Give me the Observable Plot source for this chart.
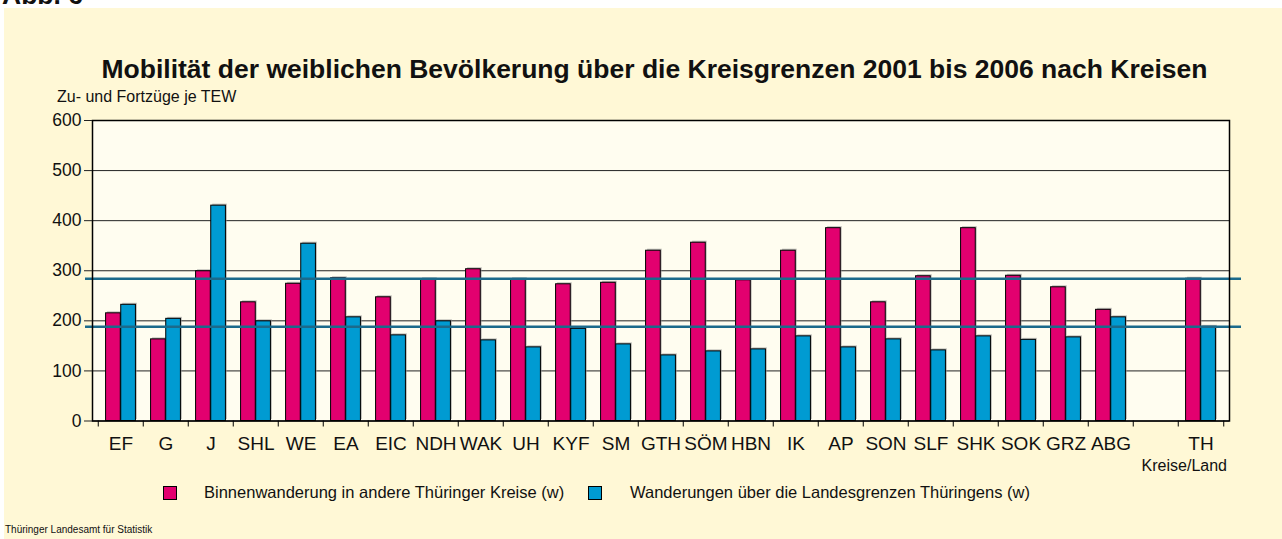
<!DOCTYPE html>
<html><head><meta charset="utf-8">
<script src="https://cdn.jsdelivr.net/npm/d3@7"></script>
<script src="https://cdn.jsdelivr.net/npm/@observablehq/plot@0.6"></script>
<style>
html,body{margin:0;padding:0;}
body{background:#fff;width:1282px;height:539px;overflow:hidden;position:relative;font-family:"Liberation Sans",Arial,sans-serif;color:#111;}
#panel{position:absolute;left:4px;top:8px;width:1278px;height:531px;background:#FFF8D6;}
.t{position:absolute;white-space:nowrap;line-height:1;color:#111;}
#chart{position:absolute;left:0;top:0;}
.sq{position:absolute;width:12px;height:12px;border:1px solid #000;}
</style>
</head><body>
<div class="t" style="left:2px;top:-18px;font-size:26.5px;font-weight:bold;">Abb. 6</div>
<div id="panel"></div>
<div id="chart"></div>
<div class="t" style="left:0;width:1309px;text-align:center;top:56px;font-size:26.5px;font-weight:bold;">Mobilität der weiblichen Bevölkerung über die Kreisgrenzen 2001 bis 2006 nach Kreisen</div>
<div class="t" style="left:57px;top:88.5px;font-size:16px;">Zu- und Fortzüge je TEW</div>
<div class="t" style="right:55px;top:458px;font-size:16px;">Kreise/Land</div>
<div class="sq" style="left:163px;top:486px;background:#E2006F;"></div>
<div class="t" style="left:204px;top:484px;font-size:16.5px;">Binnenwanderung in andere Thüringer Kreise (w)</div>
<div class="sq" style="left:588px;top:486px;background:#009BD2;"></div>
<div class="t" style="left:630px;top:484px;font-size:16.5px;">Wanderungen über die Landesgrenzen Thüringens (w)</div>
<div class="t" style="left:5px;top:525px;font-size:10px;">Thüringer Landesamt für Statistik</div>
<script>
// Kreise (with one empty slot before the Land total)
const kreise = ["EF","G","J","SHL","WE","EA","EIC","NDH","WAK","UH","KYF","SM","GTH","SÖM","HBN","IK","AP","SON","SLF","SHK","SOK","GRZ","ABG"," ","TH"];
// Binnenwanderung in andere Thüringer Kreise (w), Zu- und Fortzüge je TEW
const binnen = [215,163,299,237,274,285,247,283,303,283,273,276,340,356,281,340,385,237,289,385,290,267,222,null,284];
// Wanderungen über die Landesgrenzen Thüringens (w)
const landes = [232,204,430,199,354,207,171,199,161,147,184,153,131,139,143,169,147,163,141,169,162,167,207,null,188];
const yTicks = [0,100,200,300,400,500,600];
const landKey = "TH";

const W = 1282, H = 539, ML = 92, MR = 53, MT = 120, MB = 118.5;
const bw = (W - ML - MR) / kreise.length;
const rows = kreise.map((k, i) => ({k, b: binnen[i], l: landes[i]})).filter(d => d.b != null);
const th = rows.find(d => d.k === landKey);
const pink = "#E2006F", blue = "#009BD2";

const chart = Plot.plot({
  width: W, height: H,
  marginLeft: ML, marginRight: MR, marginTop: MT, marginBottom: MB,
  style: {background: "transparent", fontFamily: "'Liberation Sans', Arial, sans-serif", color: "#111", overflow: "visible"},
  x: {domain: kreise, padding: 0, axis: null},
  y: {domain: [0, 600], axis: null},
  marks: [
    Plot.frame({fill: "#FFFDF0", stroke: "none"}),
    Plot.gridY(yTicks, {stroke: "#222", strokeOpacity: 1, strokeWidth: 1}),
    Plot.barY(rows, {x: "k", y: "b", fill: "#8a8a8a", fillOpacity: 0.55, dx: 1.5, dy: -1.5, insetLeft: bw/6, insetRight: bw/2}),
    Plot.barY(rows, {x: "k", y: "l", fill: "#8a8a8a", fillOpacity: 0.55, dx: 1.5, dy: -1.5, insetLeft: bw/2, insetRight: bw/6}),
    Plot.barY(rows, {x: "k", y: "b", fill: pink, stroke: "#000", strokeWidth: 1, insetLeft: bw/6, insetRight: bw/2}),
    Plot.barY(rows, {x: "k", y: "l", fill: blue, stroke: "#000", strokeWidth: 1, insetLeft: bw/2, insetRight: bw/6}),
    Plot.ruleY([th.b, th.l], {stroke: "#1B6A8B", strokeWidth: 2.5, insetLeft: -7, insetRight: -12}),
    Plot.frame({stroke: "#000", strokeWidth: 1.5}),
    Plot.ruleX(kreise, {x: d => d, dx: -bw/2, y1: () => 0, y2: () => -12, stroke: "#000", strokeWidth: 1}),
    Plot.ruleX([kreise[kreise.length - 1]], {x: d => d, dx: bw/2, y1: () => 0, y2: () => -12, stroke: "#000", strokeWidth: 1}),
    Plot.axisY(yTicks, {tickSize: 8, tickPadding: 3, fontSize: 17.5, stroke: "#222", label: null}),
    Plot.axisX({tickSize: 0, tickPadding: 15, fontSize: 19, label: null})
  ]
});
document.getElementById("chart").appendChild(chart);
</script>
</body></html>
